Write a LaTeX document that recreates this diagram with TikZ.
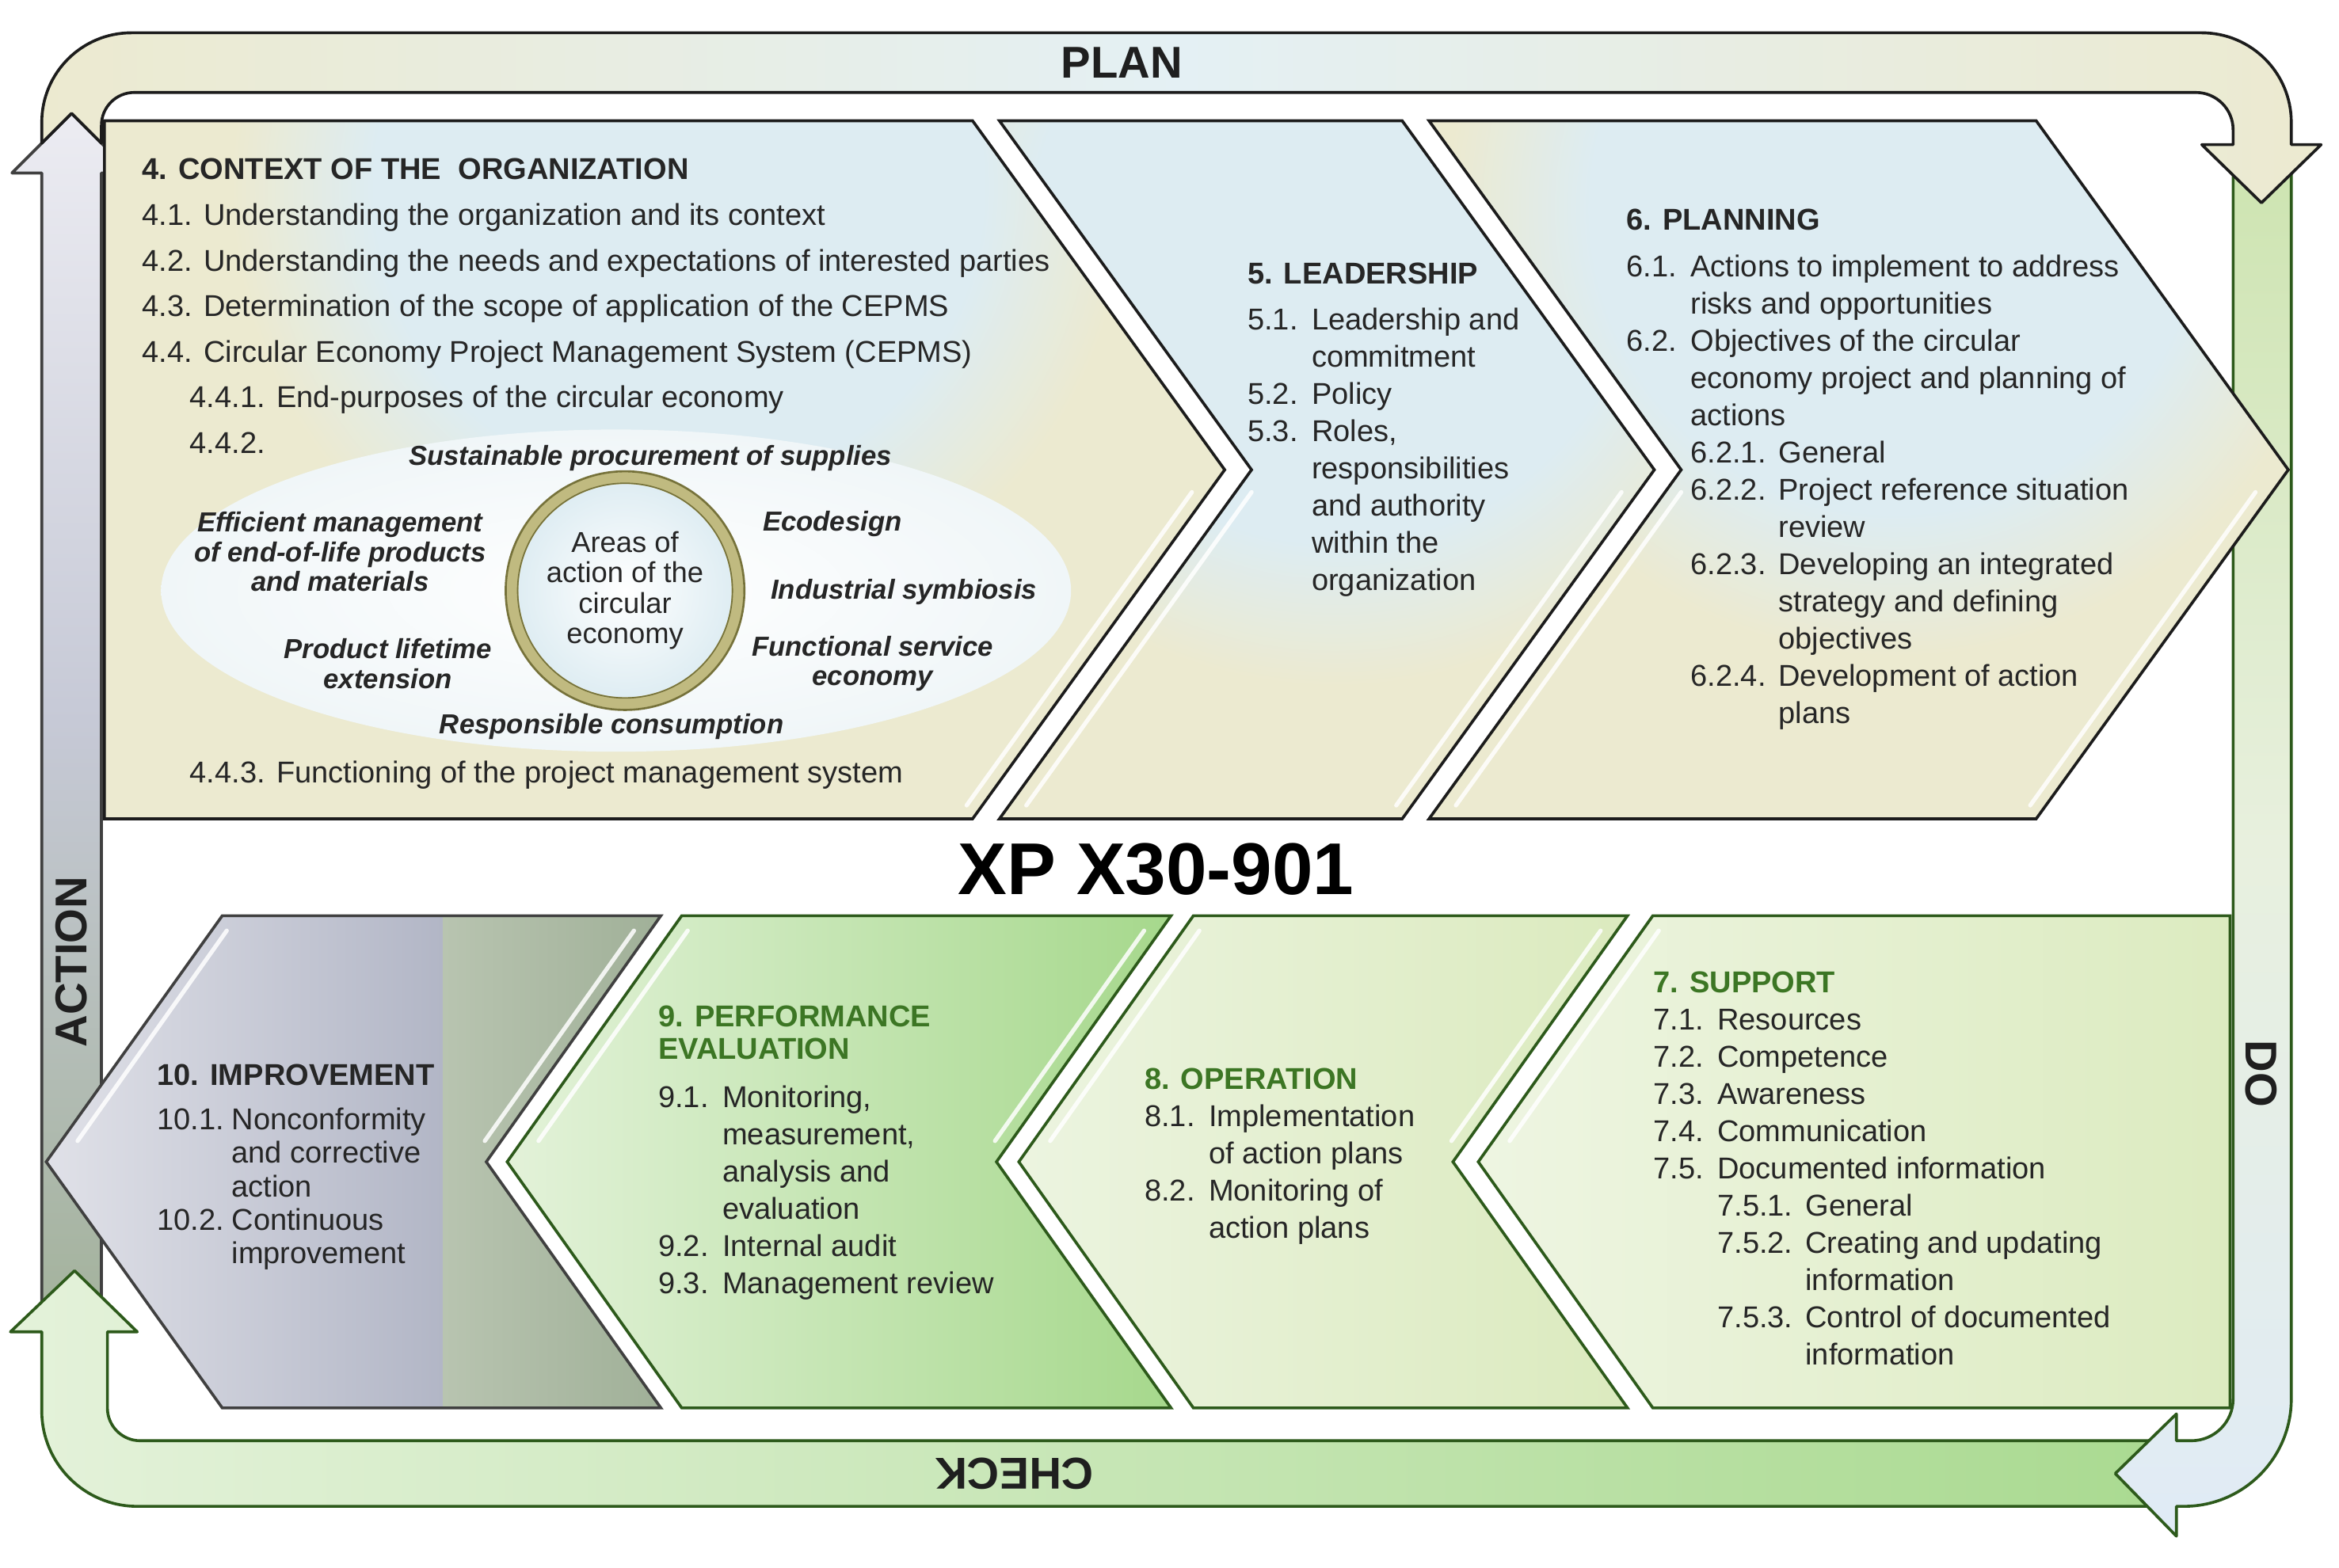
\documentclass[tikz,border=0pt]{standalone}
\usepackage{fontspec}
\setmainfont{Liberation Sans}
\usepackage{tikz}
\usepackage{xcolor}
\definecolor{ckbeige}{RGB}{236,234,208}
\definecolor{ckglow}{RGB}{221,236,242}
\definecolor{ckwhite}{RGB}{240,246,248}
\definecolor{ckplanmid}{RGB}{228,240,244}
\definecolor{ckline}{RGB}{28,28,28}
\definecolor{ckgreenline}{RGB}{45,90,27}
\definecolor{ckgrayline}{RGB}{64,64,64}
\definecolor{cktext}{RGB}{38,38,38}
\definecolor{ckhead}{RGB}{60,118,36}
\definecolor{ckgraytop}{RGB}{236,236,242}
\definecolor{ckgraymid}{RGB}{198,201,214}
\definecolor{ckgraybot}{RGB}{163,178,155}
\definecolor{ckchkleft}{RGB}{228,242,218}
\definecolor{ckchkright}{RGB}{170,218,145}
\definecolor{ckdotop}{RGB}{205,228,176}
\definecolor{ckdomid}{RGB}{232,240,222}
\definecolor{ckdobot}{RGB}{224,235,246}
\definecolor{ckimpl}{RGB}{224,225,232}
\definecolor{ckimpr}{RGB}{178,182,198}
\definecolor{ckimpg}{RGB}{184,196,176}
\definecolor{ckimpd}{RGB}{160,176,152}
\definecolor{ckperfl}{RGB}{227,242,217}
\definecolor{ckperfr}{RGB}{166,216,140}
\definecolor{ckopl}{RGB}{236,244,224}
\definecolor{ckopr}{RGB}{219,234,190}
\definecolor{cksupl}{RGB}{238,245,226}
\definecolor{cksupr}{RGB}{220,235,192}
\definecolor{ckolive}{RGB}{118,114,58}
\definecolor{ckring}{RGB}{192,186,128}
\pgfdeclareradialshading{ckglowshade}{\pgfpoint{0bp}{0bp}}{color(0bp)=(ckglow); color(17bp)=(ckglow); color(25bp)=(ckbeige); color(50bp)=(ckbeige)}
\tikzstyle{bandblack} = [draw=ckline, line width=1.1pt, line join=round]
\tikzstyle{bandgreen} = [draw=ckgreenline, line width=1.1pt, line join=round]
\tikzstyle{bandgray} = [draw=ckgrayline, line width=1.1pt, line join=round]
\tikzstyle{bandlabel} = [inner sep=0pt, text=black!88, font=\fontsize{17}{17}\selectfont\bfseries]
\tikzstyle{topchev} = [draw=ckline, line width=1.1pt]
\tikzstyle{greenchev} = [draw=ckgreenline, line width=1.1pt]
\tikzstyle{graychev} = [draw=ckgrayline, line width=1.1pt]
\tikzstyle{hilite} = [white, line width=1.6pt, line cap=round, opacity=0.85]
\tikzstyle{itemtext} = [anchor=north west, inner sep=0pt, align=left, text=cktext, font=\fontsize{11.5}{14.2}\selectfont]
\tikzstyle{areatext} = [inner sep=0pt, align=center, text=cktext, font=\fontsize{10.5}{11.4}\selectfont\bfseries\itshape]
\tikzstyle{arearing} = [circle, minimum size=3.02cm, inner sep=0pt, align=center, inner color=white, outer color=ckglow, draw=ckring, line width=0.16cm, text=cktext, font=\fontsize{11}{11.6}\selectfont]
\newcommand{\itemno}[2][0.86cm]{\makebox[#1][l]{#2}}
\newcommand{\subno}[1]{\hspace*{0.86cm}\makebox[1.18cm][l]{#1}}
\newcommand{\subind}{\hspace*{2.04cm}}

\begin{document}
\begin{tikzpicture}[x=0.02cm, y=-0.02cm]
\useasboundingbox (0,0) rectangle (1568,1051);

% PDCA ring
\shadedraw[bandgray, top color=ckgraytop, bottom color=ckgraybot, middle color=ckgraymid]
  (28,893) -- (28,116) -- (8,116) -- (48,76) -- (88,116) -- (68,116) -- (68,893) -- cycle;
\shadedraw[bandgreen, left color=ckchkleft, right color=ckchkright]
  (1455,966) -- (1455,1010) -- (92,1010) arc[start angle=90, end angle=180, radius=64]
  -- (28,893) -- (7,893) -- (50,852) -- (92,893) -- (72,893) -- (72,944)
  arc[start angle=180, end angle=90, radius=22] -- cycle;
\shadedraw[bandgreen, top color=ckdotop, bottom color=ckdobot, middle color=ckdomid]
  (1497,100) -- (1536,100) -- (1536,938) arc[start angle=0, end angle=90, radius=72]
  -- (1459,1010) -- (1459,1030) -- (1418,988) -- (1459,948) -- (1459,966) -- (1469,966)
  arc[start angle=90, end angle=0, radius=28] -- cycle;
\shadedraw[bandblack, left color=ckbeige, right color=ckbeige, middle color=ckplanmid]
  (28,96) -- (28,82) arc[start angle=180, end angle=270, radius=60] -- (1476,22)
  arc[start angle=270, end angle=360, radius=60] -- (1536,97) -- (1556,97) -- (1516,136)
  -- (1476,97) -- (1497,97) -- (1497,87) arc[start angle=0, end angle=-90, radius=25]
  -- (90,62) arc[start angle=270, end angle=180, radius=22] -- (68,96) -- (48,76) -- cycle;

\node[bandlabel] (plan) at (752,42) {PLAN};
\node[bandlabel, rotate=-90] (do) at (1516,720) {DO};
\node[bandlabel, rotate=180] (check) at (680,988) {CHECK};
\node[bandlabel, rotate=90] (action) at (48,645) {ACTION};

% upper row
\begin{scope}
\clip (70,81) -- (652,81) -- (821,315) -- (652,549) -- (70,549) -- cycle;
\fill[ckbeige] (60,70) rectangle (830,560);
\shade[shading=ckglowshade] (455,125) circle [radius=300];
\end{scope}
\begin{scope}
\clip (670,81) -- (940,81) -- (1109,315) -- (940,549) -- (670,549) -- (839,315) -- cycle;
\fill[ckbeige] (660,70) rectangle (1120,560);
\shade[shading=ckglowshade] (895,160) circle [radius=300];
\end{scope}
\begin{scope}
\clip (958,81) -- (1365,81) -- (1534,315) -- (1365,549) -- (958,549) -- (1127,315) -- cycle;
\fill[ckbeige] (950,70) rectangle (1540,560);
\shade[shading=ckglowshade] (1270,140) circle [radius=300];
\end{scope}
\draw[hilite] (799,330) -- (648,540);
\draw[hilite] (839,330) -- (688,540);
\draw[hilite] (1087,330) -- (936,540);
\draw[hilite] (1127,330) -- (976,540);
\draw[hilite] (1512,330) -- (1361,540);
\draw[topchev] (70,81) -- (652,81) -- (821,315) -- (652,549) -- (70,549) -- cycle;
\draw[topchev] (670,81) -- (940,81) -- (1109,315) -- (940,549) -- (670,549) -- (839,315) -- cycle;
\draw[topchev] (958,81) -- (1365,81) -- (1534,315) -- (1365,549) -- (958,549) -- (1127,315) -- cycle;

% areas of action
\shade[inner color=white, outer color=ckwhite] (413,396) ellipse [x radius=305, y radius=108];
\node[arearing] (areas) at (419,396) {Areas of\\action of the\\circular\\economy};
\draw[ckolive, line width=0.8pt] (areas.center) circle [radius=80];
\draw[ckolive, line width=0.5pt] (areas.center) circle [radius=72];
\node[areatext] (procure) at (436,307) {Sustainable procurement of supplies};
\node[areatext] (endlife) at (228,370) {Efficient management\\of end-of-life products\\and materials};
\node[areatext] (ecodesign) at (558,351) {Ecodesign};
\node[areatext] (symbiosis) at (606,397) {Industrial symbiosis};
\node[areatext] (lifetime) at (260,445) {Product lifetime\\extension};
\node[areatext] (service) at (585,445) {Functional service\\economy};
\node[areatext] (consume) at (410,487) {Responsible consumption};

\node[itemtext, font=\fontsize{11.5}{17.4}\selectfont] (context) at (95,106) {\textbf{4. CONTEXT OF THE\ \ ORGANIZATION}\\
4.1. Understanding the organization and its context\\
4.2. Understanding the needs and expectations of interested parties\\
4.3. Determination of the scope of application of the CEPMS\\
4.4. Circular Economy Project Management System (CEPMS)\\
\hspace*{0.64cm}4.4.1. End-purposes of the circular economy\\
\hspace*{0.64cm}4.4.2.};
\node[itemtext] (ctxlast) at (127,510) {4.4.3. Functioning of the project management system};

\node[itemtext] (leader) at (836,176) {\textbf{5. LEADERSHIP}\\[0.12cm]
\itemno{5.1.}Leadership and\\ \itemno{}commitment\\
\itemno{5.2.}Policy\\
\itemno{5.3.}Roles,\\ \itemno{}responsibilities\\ \itemno{}and authority\\ \itemno{}within the\\ \itemno{}organization};

\node[itemtext] (planning) at (1090,140) {\textbf{6. PLANNING}\\[0.12cm]
\itemno{6.1.}Actions to implement to address\\ \itemno{}risks and opportunities\\
\itemno{6.2.}Objectives of the circular\\ \itemno{}economy project and planning of\\ \itemno{}actions\\
\subno{6.2.1.}General\\
\subno{6.2.2.}Project reference situation\\ \subind review\\
\subno{6.2.3.}Developing an integrated\\ \subind strategy and defining\\ \subind objectives\\
\subno{6.2.4.}Development of action\\ \subind plans};

\node[font=\fontsize{28}{30}\selectfont\bfseries, inner sep=0pt] (title) at (775,583) {XP X30-901};

% lower row
\begin{scope}
\clip (149,614) -- (443,614) -- (326,779) -- (443,944) -- (149,944) -- (31,779) -- cycle;
\shade[left color=ckimpl, right color=ckimpr] (31,614) rectangle (297,944);
\shade[left color=ckimpg, right color=ckimpd] (297,614) rectangle (443,944);
\end{scope}
\shade[left color=ckperfl, right color=ckperfr] (457,614) -- (785,614) -- (668,779) -- (785,944) -- (457,944) -- (340,779) -- cycle;
\shade[left color=ckopl, right color=ckopr] (800,614) -- (1091,614) -- (974,779) -- (1091,944) -- (800,944) -- (683,779) -- cycle;
\shade[left color=cksupl, right color=cksupr] (1108,614) -- (1495,614) -- (1495,944) -- (1108,944) -- (991,779) -- cycle;
\draw[hilite] (52,765) -- (152,624);
\draw[hilite] (325,765) -- (425,624);
\draw[hilite] (361,765) -- (461,624);
\draw[hilite] (667,765) -- (767,624);
\draw[hilite] (704,765) -- (804,624);
\draw[hilite] (973,765) -- (1073,624);
\draw[hilite] (1012,765) -- (1112,624);
\draw[graychev] (149,614) -- (443,614) -- (326,779) -- (443,944) -- (149,944) -- (31,779) -- cycle;
\draw[greenchev] (457,614) -- (785,614) -- (668,779) -- (785,944) -- (457,944) -- (340,779) -- cycle;
\draw[greenchev] (800,614) -- (1091,614) -- (974,779) -- (1091,944) -- (800,944) -- (683,779) -- cycle;
\draw[greenchev] (1108,614) -- (1495,614) -- (1495,944) -- (1108,944) -- (991,779) -- cycle;

\node[itemtext, font=\fontsize{11.5}{12.8}\selectfont] (improve) at (105,713) {\textbf{10. IMPROVEMENT}\\[0.15cm]
\itemno[1.0cm]{10.1.}Nonconformity\\ \itemno[1.0cm]{}and corrective\\ \itemno[1.0cm]{}action\\
\itemno[1.0cm]{10.2.}Continuous\\ \itemno[1.0cm]{}improvement};

\node[itemtext] (perform) at (441,674) {\textcolor{ckhead}{\textbf{9. PERFORMANCE}}\\[-0.06cm]
\textcolor{ckhead}{\textbf{EVALUATION}}\\[0.14cm]
\itemno{9.1.}Monitoring,\\ \itemno{}measurement,\\ \itemno{}analysis and\\ \itemno{}evaluation\\
\itemno{9.2.}Internal audit\\
\itemno{9.3.}Management review};

\node[itemtext] (operate) at (767,716) {\textcolor{ckhead}{\textbf{8. OPERATION}}\\
\itemno{8.1.}Implementation\\ \itemno{}of action plans\\
\itemno{8.2.}Monitoring of\\ \itemno{}action plans};

\node[itemtext] (support) at (1108,651) {\textcolor{ckhead}{\textbf{7. SUPPORT}}\\
\itemno{7.1.}Resources\\
\itemno{7.2.}Competence\\
\itemno{7.3.}Awareness\\
\itemno{7.4.}Communication\\
\itemno{7.5.}Documented information\\
\subno{7.5.1.}General\\
\subno{7.5.2.}Creating and updating\\ \subind information\\
\subno{7.5.3.}Control of documented\\ \subind information};
\end{tikzpicture}
\end{document}
